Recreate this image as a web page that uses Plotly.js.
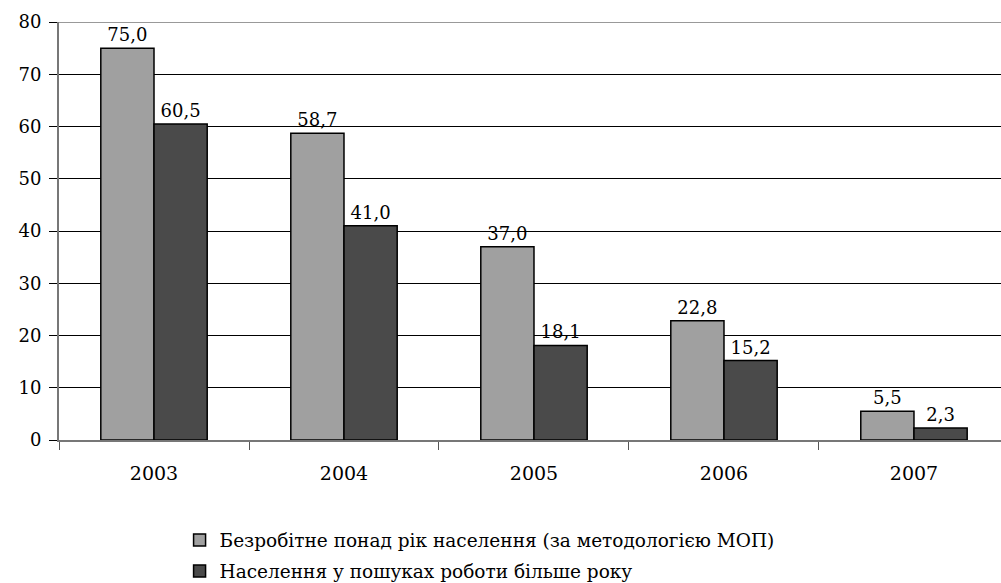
<!DOCTYPE html>
<html>
<head>
<meta charset="utf-8">
<script src="https://cdn.plot.ly/plotly-3.0.1.min.js"></script>
<style>html,body{margin:0;padding:0;background:#fff;}</style>
</head>
<body>
<div id="chart" style="width:1001px;height:583px;"></div>
<script>
var years = ['2003', '2004', '2005', '2006', '2007'];
var seriesNames = ['Безробітне понад рік населення (за методологією МОП)', 'Населення у пошуках роботи більше року'];
var unemployedOverYear = [75.0, 58.7, 37.0, 22.8, 5.5];
var seekingOverYear = [60.5, 41.0, 18.1, 15.2, 2.3];
var yTicks = [0, 10, 20, 30, 40, 50, 60, 70, 80];

function fmt(v) { return v.toFixed(1).replace('.', ','); }
var serif = 'DejaVu Serif';

var traces = [
  {
    type: 'bar', name: seriesNames[0], legendgroup: 'a', x: years, y: unemployedOverYear,
    text: unemployedOverYear.map(fmt), textposition: 'outside', cliponaxis: false,
    textfont: {family: serif, size: 18, color: '#000'},
    marker: {color: '#a0a0a0', line: {color: '#000', width: 1.5}},
    hoverinfo: 'skip'
  },
  {
    type: 'bar', name: seriesNames[1], legendgroup: 'b', x: years, y: seekingOverYear,
    text: seekingOverYear.map(fmt), textposition: 'outside', cliponaxis: false,
    textfont: {family: serif, size: 18, color: '#000'},
    marker: {color: '#4a4a4a', line: {color: '#000', width: 1.5}},
    hoverinfo: 'skip'
  }
];

var layout = {
  width: 1001, height: 583,
  margin: {l: 59, r: 0, t: 22, b: 143, pad: 0, autoexpand: false},
  paper_bgcolor: '#fff', plot_bgcolor: '#fff',
  font: {family: serif, size: 18, color: '#000'},
  barmode: 'group', bargap: 0.44, bargroupgap: 0,
  showlegend: true,
  legend: {
    x: 0.128, xanchor: 'left', y: -0.195, yanchor: 'top',
    orientation: 'v', font: {family: serif, size: 18.5, color: '#000'},
    traceorder: 'grouped', itemwidth: 30, tracegroupgap: 4
  },
  xaxis: {
    type: 'category', range: [-0.5, 4.458],
    showline: true, linecolor: '#777', linewidth: 2,
    ticks: 'outside', tickson: 'boundaries', ticklen: 8, tickcolor: '#555', tickwidth: 1,
    ticklabelstandoff: 15,
    tickfont: {family: serif, size: 19, color: '#000'},
    showgrid: false, zeroline: false
  },
  yaxis: {
    range: [0, 80], tickvals: yTicks, ticktext: yTicks.map(String),
    showline: true, linecolor: '#777', linewidth: 2,
    ticks: 'outside', ticklen: 8, tickcolor: '#000', tickwidth: 1,
    ticklabelstandoff: 4,
    tickfont: {family: serif, size: 18, color: '#000'},
    showgrid: true, gridcolor: '#000', gridwidth: 1,
    zeroline: false
  },
  shapes: [
    {type: 'line', xref: 'paper', yref: 'y', x0: 0, x1: 1, y0: 80, y1: 80, line: {color: '#999', width: 2}}
  ]
};

Plotly.newPlot('chart', traces, layout, {displayModeBar: false, staticPlot: true});
</script>
</body>
</html>
